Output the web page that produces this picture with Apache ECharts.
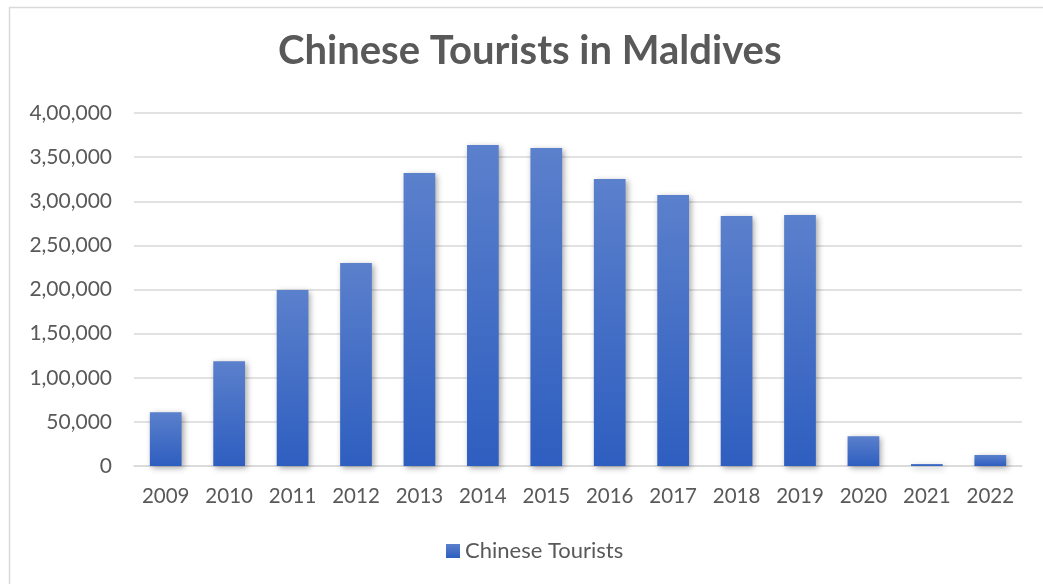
<!DOCTYPE html>
<html>
<head>
<meta charset="utf-8">
<script src="https://cdn.jsdelivr.net/npm/echarts@6/dist/echarts.min.js"></script>
<style>
  html, body { margin: 0; padding: 0; background: #ffffff; }
  #chart { width: 1043px; height: 584px; }
</style>
</head>
<body>
<div id="chart"></div>
<script>
// Yearly arrivals of Chinese tourists in the Maldives
const years = ['2009', '2010', '2011', '2012', '2013', '2014', '2015', '2016', '2017', '2018', '2019', '2020', '2021', '2022'];
const tourists = [60900, 118800, 199300, 229900, 332000, 363700, 360300, 325200, 307000, 283200, 284300, 33700, 2300, 12500];
const seriesName = 'Chinese Tourists';
const titleText = 'Chinese Tourists in Maldives';

// Indian-style digit grouping: 4,00,000
function indianFormat(v) {
  const s = String(Math.round(v));
  if (s.length <= 3) return s;
  const last3 = s.slice(-3);
  let rest = s.slice(0, -3);
  const parts = [];
  while (rest.length > 2) {
    parts.unshift(rest.slice(-2));
    rest = rest.slice(0, -2);
  }
  if (rest) parts.unshift(rest);
  return parts.join(',') + ',' + last3;
}

const FONT = 'Lato, "Open Sans", sans-serif';
const TEXT = '#595959';

const chart = echarts.init(document.getElementById('chart'), null, { renderer: 'canvas' });
chart.setOption({
  animation: false,
  backgroundColor: '#ffffff',
  graphic: [{
    type: 'rect',
    shape: { x: 9.5, y: 7.5, width: 1200, height: 800 },
    style: { fill: 'none', stroke: '#d9d9d9', lineWidth: 1.5 },
    silent: true
  }],
  title: {
    text: titleText,
    left: 278,
    top: 31,
    padding: 0,
    textStyle: { fontFamily: FONT, fontSize: 40, fontWeight: 'bold', color: TEXT }
  },
  legend: {
    bottom: 17,
    left: 441,
    itemWidth: 14,
    itemHeight: 14,
    itemGap: 6,
    icon: 'rect',
    data: [seriesName],
    textStyle: { fontFamily: FONT, fontSize: 22, color: TEXT }
  },
  grid: { left: 134, right: 21, top: 113, bottom: 118, containLabel: false },
  xAxis: {
    type: 'category',
    data: years,
    axisLine: { lineStyle: { color: '#d9d9d9', width: 1.5 } },
    axisTick: { show: false },
    axisLabel: { fontFamily: FONT, fontSize: 20.5, color: TEXT, margin: 20 }
  },
  yAxis: {
    type: 'value',
    min: 0,
    max: 400000,
    interval: 50000,
    axisLine: { show: false },
    axisTick: { show: false },
    splitLine: { lineStyle: { color: '#d9d9d9', width: 1.5 } },
    axisLabel: { fontFamily: FONT, fontSize: 21, color: TEXT, margin: 22, formatter: indianFormat }
  },
  series: [{
    name: seriesName,
    type: 'bar',
    data: tourists,
    barWidth: '50%',
    itemStyle: {
      color: new echarts.graphic.LinearGradient(0, 0, 0, 1, [
        { offset: 0, color: '#5b80cc' },
        { offset: 1, color: '#2e5ec0' }
      ]),
      shadowColor: 'rgba(0,0,0,0.35)',
      shadowBlur: 6,
      shadowOffsetX: 2,
      shadowOffsetY: 2
    }
  }]
});
</script>
</body>
</html>
